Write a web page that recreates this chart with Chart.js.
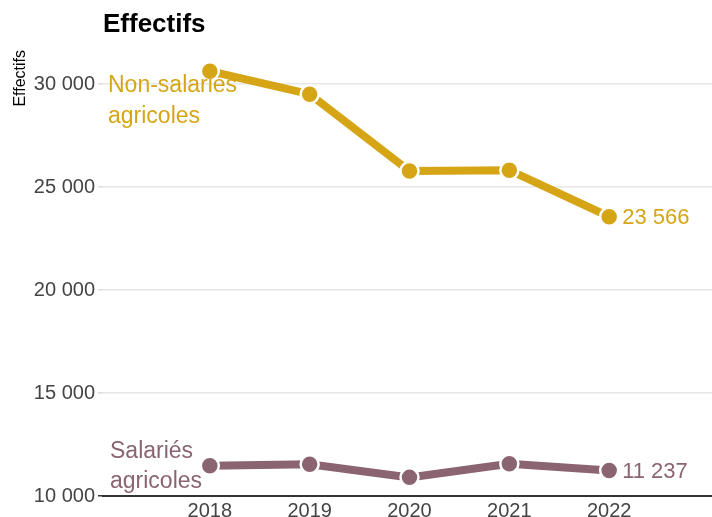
<!DOCTYPE html>
<html>
<head>
<meta charset="utf-8">
<script src="https://cdn.jsdelivr.net/npm/chart.js@4"></script>
<style>
html, body { margin: 0; padding: 0; background: #fff; }
#wrap { width: 712px; height: 517px; }
</style>
</head>
<body>
<div id="wrap"><canvas id="chart"></canvas></div>
<script>
const years = [2018, 2019, 2020, 2021, 2022];
const nonSalaries = [30630, 29515, 25780, 25825, 23566];
const salaries = [11470, 11540, 10905, 11570, 11237];
const yTicks = [10000, 15000, 20000, 25000, 30000];

const GOLD = '#d6a516';
const MAUVE = '#8a6470';
const FONT = '"Liberation Sans", Arial, sans-serif';

const fmt = v => String(v).replace(/\B(?=(\d{3})+(?!\d))/g, ' ');

// titre, libellés des séries et valeurs finales
const annotations = {
  id: 'annotations',
  afterDraw(chart) {
    const { ctx, chartArea, scales: { x, y } } = chart;
    ctx.save();

    ctx.fillStyle = '#000';
    ctx.font = 'bold 26px ' + FONT;
    ctx.textAlign = 'left';
    ctx.textBaseline = 'alphabetic';
    ctx.fillText('Effectifs', chartArea.left, 32);

    ctx.save();
    ctx.translate(25, 50);
    ctx.rotate(-Math.PI / 2);
    ctx.font = '16px ' + FONT;
    ctx.textAlign = 'right';
    ctx.fillText('Effectifs', 0, 0);
    ctx.restore();

    ctx.font = '23px ' + FONT;
    ctx.textBaseline = 'middle';
    ctx.textAlign = 'left';

    ctx.fillStyle = GOLD;
    ctx.fillText('Non-salariés', chartArea.left + 5, y.getPixelForValue(30000) + 1);
    ctx.fillText('agricoles', chartArea.left + 5, y.getPixelForValue(30000) + 32);

    ctx.fillStyle = MAUVE;
    ctx.fillText('Salariés', chartArea.left + 7, y.getPixelForValue(10000) - 44);
    ctx.fillText('agricoles', chartArea.left + 7, y.getPixelForValue(10000) - 14);

    const last = years.length - 1;
    const xe = x.getPixelForValue(years[last]) + 13;
    ctx.font = '22px ' + FONT;
    ctx.fillStyle = GOLD;
    ctx.fillText(fmt(nonSalaries[last]), xe, y.getPixelForValue(nonSalaries[last]) + 1);
    ctx.fillStyle = MAUVE;
    ctx.fillText(fmt(salaries[last]), xe, y.getPixelForValue(salaries[last]) + 1);

    ctx.restore();
  }
};

const series = (label, values, color) => ({
  label,
  data: years.map((yr, i) => ({ x: yr, y: values[i] })),
  borderColor: color,
  backgroundColor: color,
  borderWidth: 8,
  pointRadius: 9,
  pointHoverRadius: 9,
  pointBackgroundColor: color,
  pointBorderColor: '#fff',
  pointBorderWidth: 2.5,
  tension: 0
});

new Chart(document.getElementById('chart'), {
  type: 'line',
  data: {
    datasets: [
      series('Non-salariés agricoles', nonSalaries, GOLD),
      series('Salariés agricoles', salaries, MAUVE)
    ]
  },
  options: {
    responsive: true,
    maintainAspectRatio: false,
    animation: false,
    layout: { autoPadding: false, padding: { top: 43, left: 0, right: 0, bottom: 0 } },
    plugins: {
      legend: { display: false },
      tooltip: { enabled: false }
    },
    scales: {
      x: {
        type: 'linear',
        min: 2016.93,
        max: 2023.03,
        afterBuildTicks: s => { s.ticks = years.map(v => ({ value: v })); },
        afterFit: s => { s.height = 21; },
        grid: { display: false, drawTicks: false },
        border: { display: true, color: '#333', width: 2 },
        ticks: {
          color: '#444',
          padding: 3,
          maxRotation: 0,
          font: { family: FONT, size: 20 },
          callback: v => String(v)
        }
      },
      y: {
        min: 10000,
        max: 32000,
        afterBuildTicks: s => { s.ticks = yTicks.map(v => ({ value: v })); },
        afterFit: s => { s.width = 103; },
        grid: {
          color: c => (c.tick && c.tick.value === yTicks[0]) ? 'rgba(0,0,0,0)' : '#e6e6e6',
          tickColor: c => (c.tick && c.tick.value === yTicks[0]) ? '#333' : '#ddd',
          tickLength: 5,
          lineWidth: 1.5
        },
        border: { display: false },
        ticks: {
          color: '#444',
          padding: 3,
          font: { family: FONT, size: 20 },
          callback: v => fmt(v)
        }
      }
    }
  },
  plugins: [annotations]
});
</script>
</body>
</html>
